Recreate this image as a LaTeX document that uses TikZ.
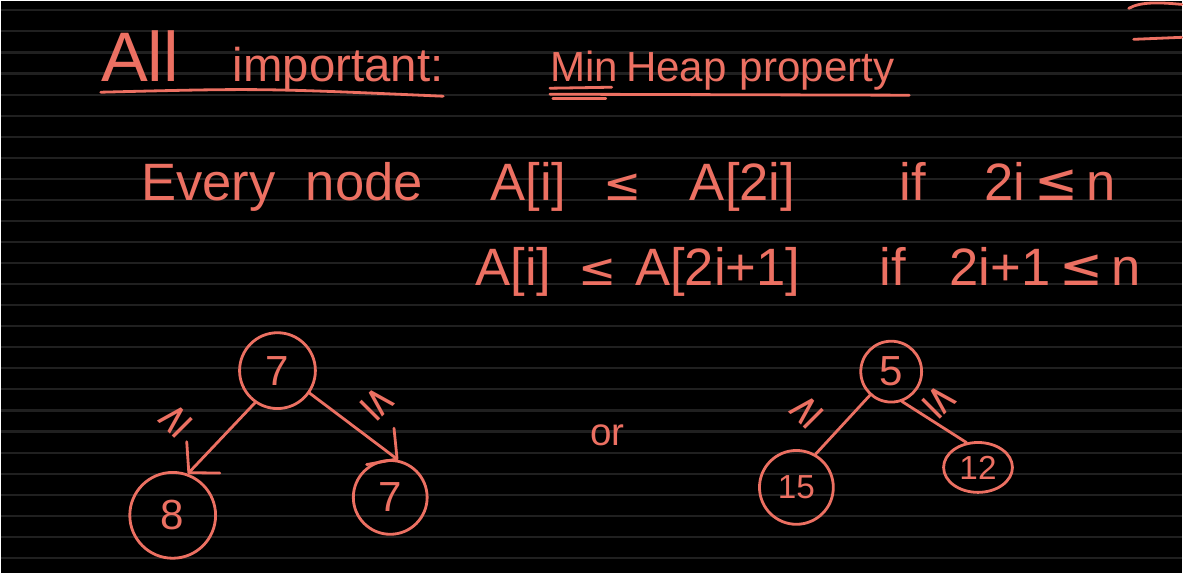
\documentclass[tikz,border=0pt]{standalone}
\usepackage{fontspec}
\setmainfont{Liberation Sans}
\newfontfamily\symfont{DejaVu Sans}
\usepackage{xcolor}
\definecolor{inkred}{RGB}{236,112,98}
\definecolor{rulegray}{RGB}{32,32,32}
\usetikzlibrary{arrows.meta, shapes.geometric}

\begin{document}
\begin{tikzpicture}[x=0.02cm, y=-0.02cm,
  hand/.style={font=\fontsize{30}{32}\selectfont, text=inkred, inner sep=0pt, anchor=base west},
  keynode/.style={circle, draw=inkred, line width=1.6pt, text=inkred, font=\fontsize{24}{26}\selectfont, inner sep=0pt},
  ink/.style={draw=inkred, line width=1.6pt, line cap=round},
  edgemark/.style={text=inkred, font=\symfont\fontsize{24}{26}\selectfont, inner sep=0pt},
  barb/.style={-{Straight Barb[length=12pt, width=26pt, line width=1.6pt, round]}}]

  % Dark page with faint ruling
  \fill[black] (0,0) rectangle (1183,573);
  \foreach \k in {0,...,26}
    \draw[rulegray, line width=1.2pt] (0,{9+21.1*\k}) -- (1183,{9+21.1*\k});

  % Fragment cut off at the top right
  \draw[ink] (1130,7) .. controls (1142,0) and (1162,1) .. (1183,3);
  \draw[ink] (1135,38) -- (1183,36);

  % --- Headline ---
  \node[hand, font=\fontsize{40}{42}\selectfont] (all) at (100,80) {All};
  \node[hand, font=\fontsize{27}{29}\selectfont] (important) at (232,80) {important:};
  \draw[ink] (100,91) .. controls (260,87) .. (443,95);

  \node[hand, font=\fontsize{24}{26}\selectfont] (min) at (550,80) {Min};
  \node[hand, font=\fontsize{24}{26}\selectfont] (heap) at (626,80) {Heap};
  \node[hand, font=\fontsize{24}{26}\selectfont] (property) at (740,80) {property};
  \draw[ink] (550,87) -- (612,86);
  \draw[ink] (553,97) -- (606,97);
  \draw[ink] (550,93) -- (910,94);

  % --- Rule, first line ---
  \node[hand] (every) at (140,200) {Every};
  \node[hand] (node) at (305,200) {node};
  \node[hand] (lhsa) at (490,200) {A[i]};
  \node[hand, font=\symfont\fontsize{26}{28}\selectfont] (lea) at (603,200) {≤};
  \node[hand] (rhsa) at (690,200) {A[2i]};
  \node[hand] (ifa) at (900,200) {if};
  \node[hand] (conda) at (985,200) {2i\,{\symfont ≤}\,n};

  % --- Rule, second line ---
  \node[hand] (lhsb) at (475,285) {A[i]};
  \node[hand, font=\symfont\fontsize{26}{28}\selectfont] (leb) at (578,285) {≤};
  \node[hand] (rhsb) at (635,285) {A[2i+1]};
  \node[hand] (ifb) at (880,285) {if};
  \node[hand] (condb) at (950,285) {2i+1\,{\symfont ≤}\,n};

  % --- Left tree ---
  \node[keynode, minimum size=1.52cm] (top7) at (277,370) {7};
  \node[keynode, minimum size=1.72cm] (left8) at (172,515) {8};
  \node[keynode, minimum size=1.48cm] (right7) at (390,497) {7};
  \draw[ink, barb] (top7.-125) -- (left8.70);
  \draw[ink, barb] (top7.-35) -- (right7.78);
  \node[edgemark, rotate=45] (markl) at (175,420) {≥};
  \node[edgemark, rotate=-45] (markr) at (377,403) {≤};

  \node[hand, font=\fontsize{22}{24}\selectfont] (or) at (590,445) {or};

  % --- Right tree ---
  \node[keynode, minimum size=1.22cm] (top5) at (892,371) {5};
  \node[keynode, minimum size=1.48cm, font=\fontsize{19}{21}\selectfont] (left15) at (797,487) {15};
  \node[keynode, ellipse, minimum width=1.38cm, minimum height=1.0cm, font=\fontsize{19}{21}\selectfont] (right12) at (979,467) {12};
  \draw[ink] (top5.-132) -- (left15.60);
  \draw[ink] (top5.-70) -- (right12.115);
  \node[edgemark, rotate=45] (markll) at (807,411) {≥};
  \node[edgemark, rotate=-45] (markrr) at (941,401) {≤};
\end{tikzpicture}
\end{document}
